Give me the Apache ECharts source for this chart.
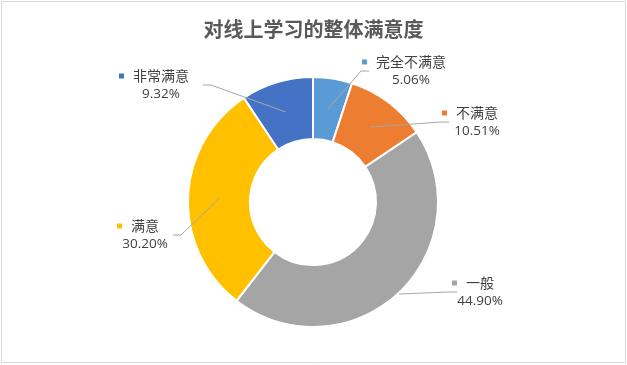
<!DOCTYPE html>
<html>
<head>
<meta charset="utf-8">
<script src="https://cdn.jsdelivr.net/npm/echarts@6/dist/echarts.min.js"></script>
<style>
html,body{margin:0;padding:0;background:#fff;}
#chart{width:627px;height:365px;}
</style>
</head>
<body>
<div id="chart"></div>
<script>
const title = '对线上学习的整体满意度';
const categories = ['完全不满意', '不满意', '一般', '满意', '非常满意'];
const values = [5.06, 10.51, 44.90, 30.20, 9.32];
const percentLabels = ['5.06%', '10.51%', '44.90%', '30.20%', '9.32%'];
const colors = ['#5B9BD5', '#ED7D31', '#A5A5A5', '#FFC000', '#4472C4'];

// label placement & leader style (style only)
const labelPos = [[411, 71], [477, 122], [480, 292], [145, 235], [161, 85]];
const leaderStartR = [94, 94, 126, 94, 94];
const CX = 313, CY = 202;

const total = values.reduce((a, b) => a + b, 0);
const midAngles = [];
{
  let acc = 0;
  values.forEach(v => { midAngles.push((acc + v / 2) / total * 2 * Math.PI); acc += v; });
}

const rich = {
  n: {fontSize: 14, color: '#404040', fontFamily: '"Noto Sans CJK SC", sans-serif', lineHeight: 18},
  p: {fontSize: 13.5, color: '#404040', fontFamily: '"Open Sans", "Noto Sans", sans-serif', lineHeight: 18},
  pad: {width: 14, height: 5}
};
colors.forEach((c, i) => {
  rich['s' + i] = {width: 5, height: 5, backgroundColor: c, align: 'left'};
  rich['g' + i] = {width: 9, height: 5};
});

const base = {
  type: 'pie',
  center: [CX, CY],
  radius: [63, 125],
  startAngle: 90,
  clockwise: true,
  silent: true,
  emphasis: {disabled: true}
};

const chart = echarts.init(document.getElementById('chart'), null, {renderer: 'canvas'});
chart.setOption({
  animation: false,
  backgroundColor: '#fff',
  graphic: [{
    type: 'rect', silent: true, z: -10,
    shape: {x: 1.5, y: 1.5, width: 624, height: 361},
    style: {fill: 'none', stroke: '#d9d9d9', lineWidth: 1}
  }],
  title: {
    text: title, left: 'center', top: 14,
    textStyle: {fontSize: 20, fontWeight: 'bold', color: '#595959', fontFamily: '"Noto Sans CJK SC", sans-serif'}
  },
  series: [
    Object.assign({}, base, {
      z: 2,
      data: categories.map((name, i) => ({name, value: values[i], itemStyle: {color: colors[i]}})),
      itemStyle: {borderColor: '#fff', borderWidth: 2},
      label: {show: false},
      labelLine: {show: false}
    }),
    Object.assign({}, base, {
      z: 5,
      data: categories.map((name, i) => ({name, value: values[i]})),
      itemStyle: {color: 'rgba(0,0,0,0)', borderWidth: 0},
      label: {
        show: true,
        position: 'outside',
        padding: [0, 5],
        opacity: 1,
        formatter: (p) => '{s' + p.dataIndex + '|}{g' + p.dataIndex + '|}{n|' + p.name + '}{pad|}\n{p|' + percentLabels[p.dataIndex] + '}',
        rich: rich
      },
      labelLine: {show: true, length: 10, length2: 8, lineStyle: {color: '#A6A6A6', width: 1, opacity: 1}},
      labelLayout: (params) => {
        const i = params.dataIndex;
        const [lx, ly] = labelPos[i];
        const hw = params.labelRect.width / 2;
        const right = lx > CX;
        const ex = right ? lx - hw : lx + hw;
        const bx = right ? ex - 8 : ex + 8;
        const a = midAngles[i], r = leaderStartR[i];
        const sx = CX + r * Math.sin(a), sy = CY - r * Math.cos(a);
        return {
          x: lx, y: ly, align: 'center', verticalAlign: 'middle',
          labelLinePoints: [[sx, sy], [bx, ly], [ex, ly]]
        };
      }
    })
  ]
});
</script>
</body>
</html>
